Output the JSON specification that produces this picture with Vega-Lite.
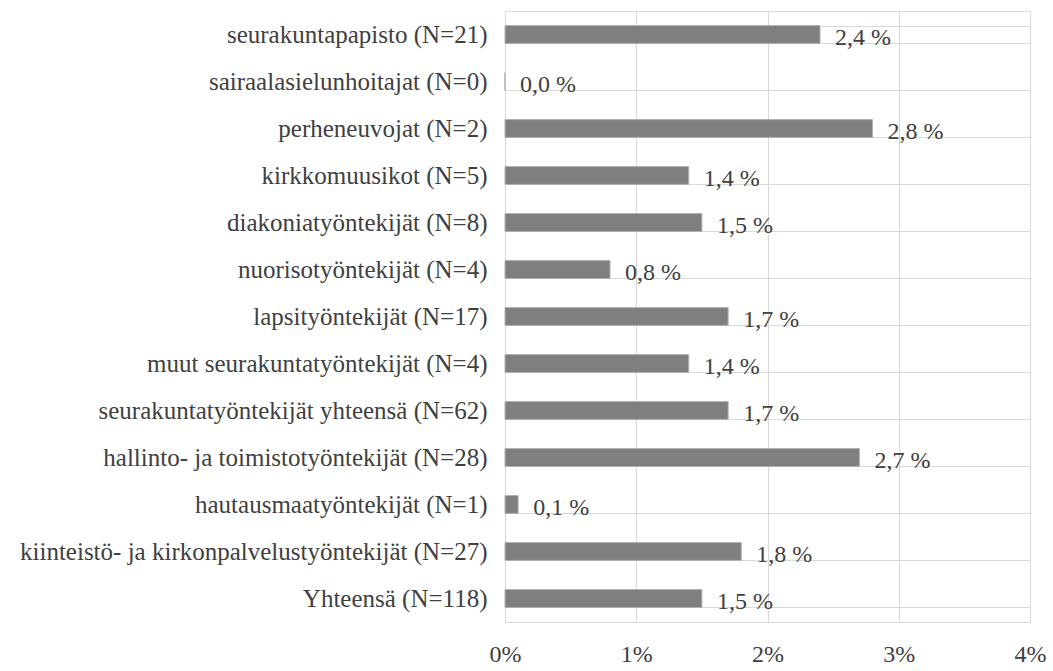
{
  "$schema": "https://vega.github.io/schema/vega-lite/v6.json",
  "width": 525,
  "height": 611,
  "autosize": "none",
  "padding": {"left": 505, "top": 11, "right": 23, "bottom": 49},
  "background": "white",
  "data": {
    "values": [
      {"group": "seurakuntapapisto (N=21)", "value": 2.4, "label": "2,4 %"},
      {"group": "sairaalasielunhoitajat (N=0)", "value": 0.0, "label": "0,0 %"},
      {"group": "perheneuvojat (N=2)", "value": 2.8, "label": "2,8 %"},
      {"group": "kirkkomuusikot (N=5)", "value": 1.4, "label": "1,4 %"},
      {"group": "diakoniatyöntekijät (N=8)", "value": 1.5, "label": "1,5 %"},
      {"group": "nuorisotyöntekijät (N=4)", "value": 0.8, "label": "0,8 %"},
      {"group": "lapsityöntekijät (N=17)", "value": 1.7, "label": "1,7 %"},
      {"group": "muut seurakuntatyöntekijät (N=4)", "value": 1.4, "label": "1,4 %"},
      {"group": "seurakuntatyöntekijät yhteensä (N=62)", "value": 1.7, "label": "1,7 %"},
      {"group": "hallinto- ja toimistotyöntekijät (N=28)", "value": 2.7, "label": "2,7 %"},
      {"group": "hautausmaatyöntekijät (N=1)", "value": 0.1, "label": "0,1 %"},
      {"group": "kiinteistö- ja kirkonpalvelustyöntekijät (N=27)", "value": 1.8, "label": "1,8 %"},
      {"group": "Yhteensä (N=118)", "value": 1.5, "label": "1,5 %"}
    ]
  },
  "encoding": {
    "y": {
      "field": "group",
      "type": "nominal",
      "sort": null,
      "title": null,
      "scale": {"paddingInner": 0.62, "paddingOuter": 0.31},
      "axis": {
        "grid": true,
        "tickBand": "extent",
        "gridColor": "#d9d9d9",
        "gridWidth": 1,
        "domain": false,
        "ticks": false,
        "labelPadding": 18,
        "labelLimit": 600,
        "labelFont": "Liberation Serif",
        "labelFontSize": 25,
        "labelColor": "#404040"
      }
    },
    "x": {
      "field": "value",
      "type": "quantitative",
      "title": null,
      "scale": {"domain": [0, 4], "nice": false},
      "axis": {
        "values": [0, 1, 2, 3, 4],
        "labelExpr": "datum.value + '%'",
        "labelFlush": false,
        "grid": true,
        "gridColor": "#d9d9d9",
        "domain": false,
        "ticks": false,
        "labelPadding": 20,
        "labelFont": "Liberation Serif",
        "labelFontSize": 24,
        "labelColor": "#404040"
      }
    }
  },
  "layer": [
    {
      "mark": {"type": "bar", "color": "#7f7f7f", "stroke": "#b0b0b0", "strokeWidth": 1}
    },
    {
      "mark": {
        "type": "text",
        "align": "left",
        "baseline": "middle",
        "dx": 15,
        "dy": 3,
        "font": "Liberation Serif",
        "fontSize": 24,
        "color": "#404040"
      },
      "encoding": {"text": {"field": "label"}}
    }
  ],
  "config": {
    "view": {"stroke": "#d9d9d9"}
  }
}
